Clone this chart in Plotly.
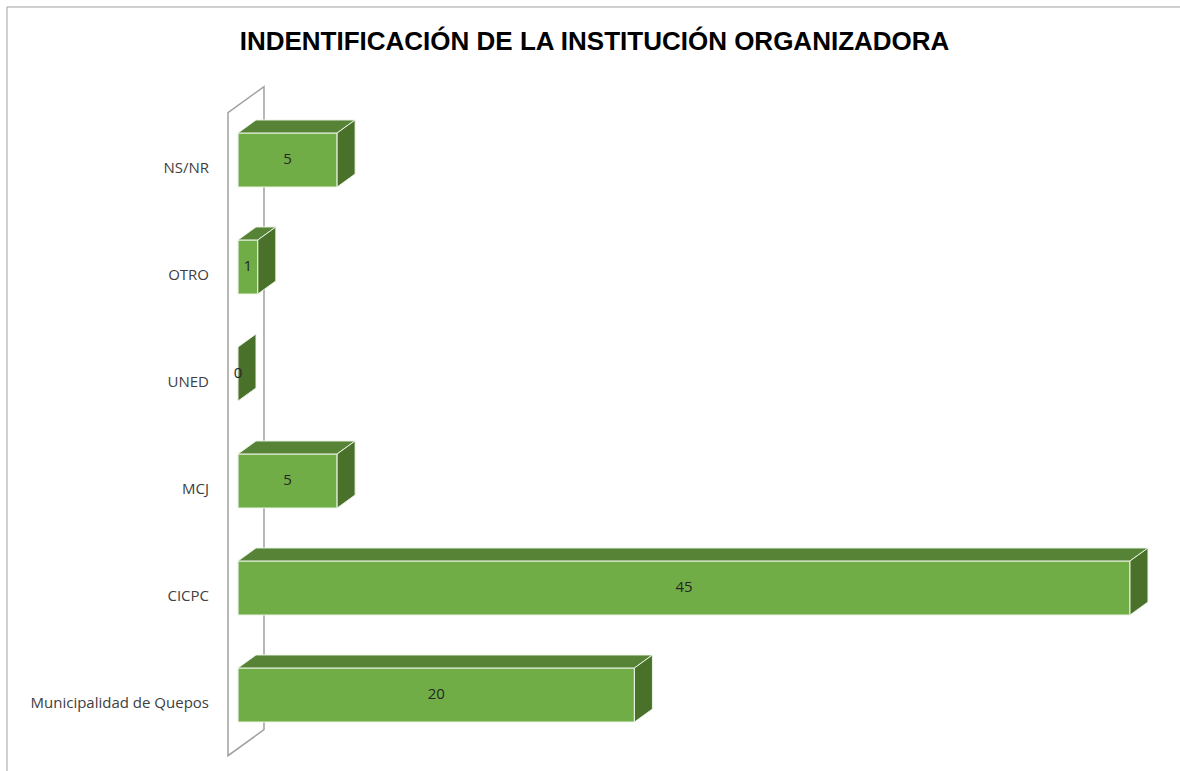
import plotly.graph_objects as go

# Institutions and number of responses
categories = ["Municipalidad de Quepos", "CICPC", "MCJ", "UNED", "OTRO", "NS/NR"]
counts = [20, 45, 5, 0, 1, 5]

TITLE = "INDENTIFICACIÓN DE LA INSTITUCIÓN ORGANIZADORA"

W, H = 1180, 771
M_L = 213

# Axis windows (value units on x, category index on y)
X_RANGE = [-1.2612, 47.523]
Y_RANGE = [-0.7103, 6.4953]

BAR_H = 0.505          # bar thickness in category units
DEPTH_X = 0.908        # oblique depth offset along x (value units)
DEPTH_Y = 0.1215       # oblique depth offset along y (category units)

FRONT = "#70AD47"
TOP = "#568336"
SIDE = "#4A7129"
EDGE = "#EAF3E4"
WALL = "#A0A0A0"


def proj(v, i, z):
    """Oblique projection of a point (value, category, depth)."""
    return v + z * DEPTH_X, i + z * DEPTH_Y


def polygon(points):
    xs, ys = [], []
    for p in points:
        x, y = proj(*p)
        xs.append(x)
        ys.append(y)
    xs.append(xs[0])
    ys.append(ys[0])
    return xs, ys


idx = list(range(len(categories)))

fig = go.Figure()

# Top faces
tx, ty = [], []
for i, v in zip(idx, counts):
    if v <= 0:
        continue
    h = BAR_H / 2
    xs, ys = polygon([(0, i + h, 0), (v, i + h, 0), (v, i + h, 1), (0, i + h, 1)])
    tx += xs + [None]
    ty += ys + [None]
fig.add_trace(go.Scatter(x=tx, y=ty, mode="lines", fill="toself",
                         fillcolor=TOP, line=dict(color=EDGE, width=1),
                         hoverinfo="skip", showlegend=False))

# Side (end) faces
sx, sy = [], []
for i, v in zip(idx, counts):
    h = BAR_H / 2
    xs, ys = polygon([(v, i - h, 0), (v, i + h, 0), (v, i + h, 1), (v, i - h, 1)])
    sx += xs + [None]
    sy += ys + [None]
fig.add_trace(go.Scatter(x=sx, y=sy, mode="lines", fill="toself",
                         fillcolor=SIDE, line=dict(color=EDGE, width=1),
                         hoverinfo="skip", showlegend=False))

# Front faces
fig.add_trace(go.Bar(x=counts, y=idx, base=0, orientation="h", width=BAR_H,
                     marker=dict(color=FRONT, line=dict(color=EDGE, width=1.2)),
                     hoverinfo="skip", showlegend=False))

# Value labels
fig.add_trace(go.Scatter(x=[v / 2 for v in counts], y=idx, mode="text",
                         text=[str(v) for v in counts],
                         textfont=dict(family="Open Sans, Liberation Sans, sans-serif",
                                       size=15, color="#262626"),
                         hoverinfo="skip", showlegend=False))

# Back wall of the 3D box at value 0 (drawn beneath all traces)
wx, wy = polygon([(0, -0.5, -0.556), (0, 5.51, -0.556),
                  (0, 5.51, 1.444), (0, -0.5, 1.444)])
wall_path = "M " + " L ".join(f"{x},{y}" for x, y in zip(wx, wy)) + " Z"

fig.update_layout(
    width=W, height=H,
    margin=dict(l=M_L, r=0, t=0, b=0),
    paper_bgcolor="white", plot_bgcolor="white",
    showlegend=False,
    title=dict(text="<b>" + TITLE + "</b>", xref="container", yref="container",
               x=594.5 / W, y=1 - 41 / H, xanchor="center", yanchor="middle",
               font=dict(family="Liberation Sans, Arial, sans-serif", size=26,
                         color="#000000")),
    xaxis=dict(range=X_RANGE, visible=False, showgrid=False, zeroline=False),
    yaxis=dict(range=Y_RANGE, showgrid=False, zeroline=False, showline=False,
               tickmode="array", tickvals=[i - 0.07 for i in idx],
               ticktext=categories, ticks="", ticklabelstandoff=3,
               tickfont=dict(family="Open Sans, Liberation Sans, sans-serif",
                             size=15, color="#404040")),
    shapes=[
        dict(type="rect", xref="paper", yref="paper",
             x0=(7 - M_L) / (W - M_L), x1=1.05,
             y0=-0.05, y1=(H - 7) / H,
             line=dict(color="#A0A0A0", width=1), fillcolor="rgba(0,0,0,0)",
             layer="below"),
        dict(type="path", xref="x", yref="y", path=wall_path,
             line=dict(color=WALL, width=1.5), fillcolor="rgba(0,0,0,0)",
             layer="below"),
    ],
)

fig.write_html("out.html")
